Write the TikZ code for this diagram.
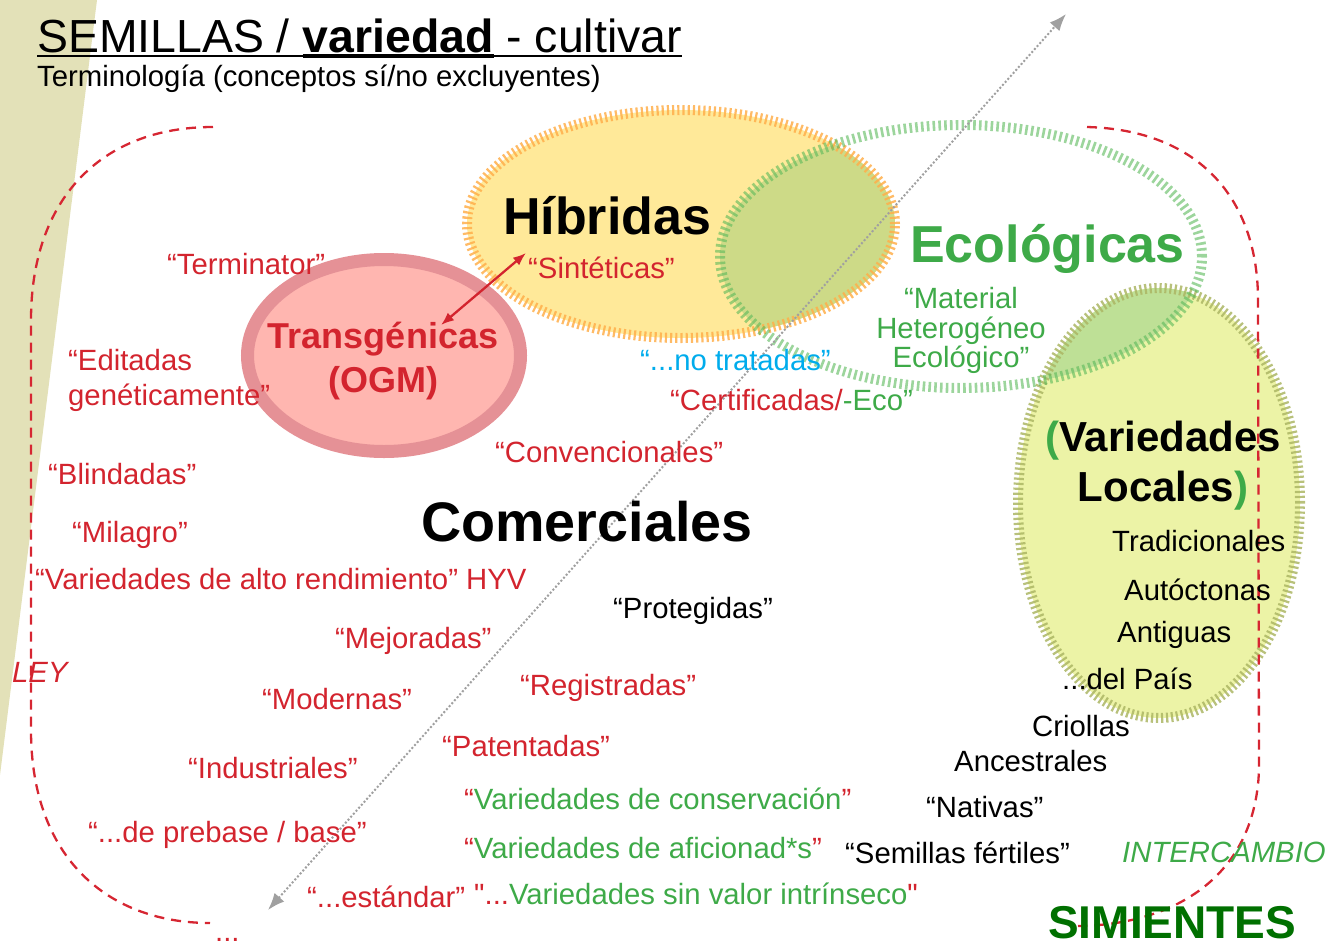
\documentclass[tikz,border=0pt]{standalone}
\usepackage{fontspec}
\setmainfont{Liberation Sans}
\newfontfamily\plainqfont{Liberation Sans}
\usetikzlibrary{arrows.meta}
\definecolor{tred}{RGB}{211,36,46}
\definecolor{tgreen}{RGB}{62,170,72}
\definecolor{tblue}{RGB}{0,172,236}
\definecolor{dgreen}{RGB}{0,112,0}
\definecolor{beige}{RGB}{227,225,184}
\definecolor{hybfill}{RGB}{255,233,153}
\definecolor{hybring}{RGB}{255,175,75}
\definecolor{ecoring}{RGB}{90,185,90}
\definecolor{locfill}{RGB}{236,243,166}
\definecolor{locring}{RGB}{172,182,100}
\definecolor{ovhyb}{RGB}{205,218,135}
\definecolor{ovloc}{RGB}{190,224,150}
\definecolor{pinkfill}{RGB}{255,182,176}
\definecolor{pinkring}{RGB}{229,145,150}
\definecolor{leyred}{RGB}{214,38,50}
\definecolor{arrgray}{RGB}{160,160,160}
\newsavebox\ulsavebox
\newcommand\myul[3]{\sbox\ulsavebox{#3}\rlap{\rule[#1]{\wd\ulsavebox}{#2}}\usebox\ulsavebox}
\tikzset{
  txt/.style={anchor=base west, inner sep=0pt, font=\fontsize{29.3}{31}\selectfont},
  rtx/.style={txt, text=tred},
  gtx/.style={txt, text=tgreen},
  ktx/.style={txt, text=black},
  ley/.style={draw=leyred, line width=2.3pt, dash pattern=on 10pt off 7pt},
  hybticks/.style={draw=hybring, draw opacity=0.85, line width=10pt, dash pattern=on 2.2pt off 3pt},
  ecoticks/.style={draw=ecoring, draw opacity=0.6, line width=10pt, dash pattern=on 2.6pt off 3.2pt},
  locticks/.style={draw=locring, draw opacity=0.85, line width=10pt, dash pattern=on 2.2pt off 2.8pt},
}
\begin{document}
\begin{tikzpicture}[x=1pt,y=-1pt]
\useasboundingbox (0,0) rectangle (1325,945);
% beige wedge
\fill[beige] (0,0) -- (97,0) -- (0,775) -- cycle;
% fills
\fill[hybfill] (681,224) ellipse [x radius=214pt, y radius=114pt];
\fill[locfill] (1159,503) ellipse [x radius=141pt, y radius=215pt];
\begin{scope}
  \clip (681,224) ellipse [x radius=214pt, y radius=114pt];
  \fill[ovhyb] (961,256.5) ellipse [x radius=241pt, y radius=131.5pt];
\end{scope}
\begin{scope}
  \clip (1159,503) ellipse [x radius=141pt, y radius=215pt];
  \fill[ovloc] (961,256.5) ellipse [x radius=241pt, y radius=131.5pt];
\end{scope}
% rings
\draw[hybticks] (681,224) ellipse [x radius=214pt, y radius=114pt];
\draw[locticks] (1159,503) ellipse [x radius=141pt, y radius=215pt];
\draw[ecoticks] (961,256.5) ellipse [x radius=241pt, y radius=131.5pt];
% transgenic ellipse
\draw[fill=pinkfill, draw=pinkring, line width=13pt] (384,355.5) ellipse [x radius=136.5pt, y radius=96pt];
% LEY boundaries
\draw[ley] (213,127) .. controls (100,127) and (31,200) .. (31,320) -- (31,730) .. controls (31,860) and (110,923) .. (210,923);
\draw[ley] (1087,127) .. controls (1200,130) and (1258,200) .. (1258,300) -- (1259,770) .. controls (1255,880) and (1170,925) .. (1078,926);
% gray diagonal arrow
\coordinate (gA) at (268,910);
\coordinate (gB) at (1066,14);
\draw[arrgray, line width=2pt, dotted, {Latex[length=17pt,width=13pt]}-{Latex[length=17pt,width=13pt]}] (gA) -- (gB);
% title
\node[anchor=base west, inner sep=0pt, font=\fontsize{46.4}{50}\selectfont] (title) at (37,52)
  {\myul{-5pt}{2.2pt}{SEMILLAS / }\myul{-6pt}{4.4pt}{\textbf{variedad}}\myul{-5pt}{2.2pt}{ - cultivar}};
\node[ktx] (subtitle) at (37,86) {Terminología (conceptos sí/no excluyentes)};
% big labels
\node[anchor=base west, inner sep=0pt, font=\bfseries\fontsize{52}{56}\selectfont] (hib) at (503,234) {Híbridas};
\node[anchor=base west, inner sep=0pt, text=tgreen, font=\bfseries\fontsize{52}{56}\selectfont] (eco) at (910,262) {Ecológicas};
\node[anchor=base west, inner sep=0pt, font=\bfseries\fontsize{55.7}{60}\selectfont] (com) at (421,541) {Comerciales};
\node[anchor=base, inner sep=0pt, text=tred, font=\bfseries\fontsize{36}{40}\selectfont] (trans) at (383,348) {Transgénicas};
\node[anchor=base, inner sep=0pt, text=tred, font=\bfseries\fontsize{36}{40}\selectfont] (ogm) at (383,392) {(OGM)};
\node[anchor=base, inner sep=0pt, font=\bfseries\fontsize{42}{46}\selectfont] (varl) at (1163,451) {{\color{tgreen}(}Variedades};
\node[anchor=base, inner sep=0pt, font=\bfseries\fontsize{42}{46}\selectfont] (locl) at (1163,501) {Locales{\color{tgreen})}};
\node[anchor=base west, inner sep=0pt, text=dgreen, font=\bfseries\fontsize{46}{50}\selectfont] (sim) at (1048,938) {SIMIENTES};
\node[anchor=base west, inner sep=0pt, text=tred, font=\itshape\fontsize{29.3}{31}\selectfont] (leyl) at (12,682) {LEY};
\node[anchor=base west, inner sep=0pt, text=tgreen, font=\itshape\fontsize{29.3}{31}\selectfont] (inter) at (1122,862) {INTERCAMBIO};
% red labels
\node[rtx] (term) at (167,274) {“Terminator”};
\node[rtx] (edit1) at (68,370) {“Editadas};
\node[rtx] (edit2) at (68,405) {genéticamente”};
\node[rtx] (blin) at (48,484) {“Blindadas”};
\node[rtx] (mil) at (72,542) {“Milagro”};
\node[rtx] (hyv) at (35,589) {“Variedades de alto rendimiento” HYV};
\node[rtx] (mej) at (335,648) {“Mejoradas”};
\node[rtx] (mod) at (262,709) {“Modernas”};
\node[rtx] (ind) at (188,778) {“Industriales”};
\node[rtx] (preb) at (88,842) {“...de prebase / base”};
\node[rtx] (est) at (307,907) {“...estándar”};
\node[rtx] (dots) at (215,941) {...};
\node[gtx] (sinv) at (474,904) {{\color{tred}\plainqfont"...}Variedades sin valor intrínseco{\color{tred}\plainqfont"}};
\node[rtx] (conv) at (495,462) {“Convencionales”};
\node[ktx] (prot) at (613,618) {“Protegidas”};
\node[rtx] (reg) at (520,695) {“Registradas”};
\node[rtx] (pat) at (442,756) {“Patentadas”};
\node[gtx] (cons) at (464,809) {{\color{tred}“}Variedades de conservación{\color{tred}”}};
\node[gtx] (afic) at (464,858) {{\color{tred}“}Variedades de aficionad*s{\color{tred}”}};
\node[rtx] (sint) at (528,278) {“Sintéticas”};
\node[txt, text=tblue] (notr) at (640,370) {“...no tratadas”};
\node[rtx] (cert) at (670,410) {“Certificadas/{\color{tgreen}-Eco”}};
% green
\node[txt, anchor=base, text=tgreen] (mat1) at (961,308) {“Material};
\node[txt, anchor=base, text=tgreen] (mat2) at (961,338) {Heterogéneo};
\node[txt, anchor=base, text=tgreen] (mat3) at (961,367) {Ecológico”};
% black local list
\node[ktx] (trad) at (1112,551) {Tradicionales};
\node[ktx] (auto) at (1124,600) {Autóctonas};
\node[ktx] (anti) at (1117,642) {Antiguas};
\node[ktx] (pais) at (1062,689) {...del País};
\node[ktx] (crio) at (1032,736) {Criollas};
\node[ktx] (ance) at (954,771) {Ancestrales};
\node[ktx] (nati) at (926,817) {“Nativas”};
\node[ktx] (fert) at (845,863) {“Semillas fértiles”};
% red double arrow
\coordinate (rA) at (441,325);
\coordinate (rB) at (526,253);
\draw[tred, line width=2.3pt, {Latex[length=13pt,width=10pt]}-{Latex[length=13pt,width=10pt]}] (rA) -- (rB);
\end{tikzpicture}
\end{document}
